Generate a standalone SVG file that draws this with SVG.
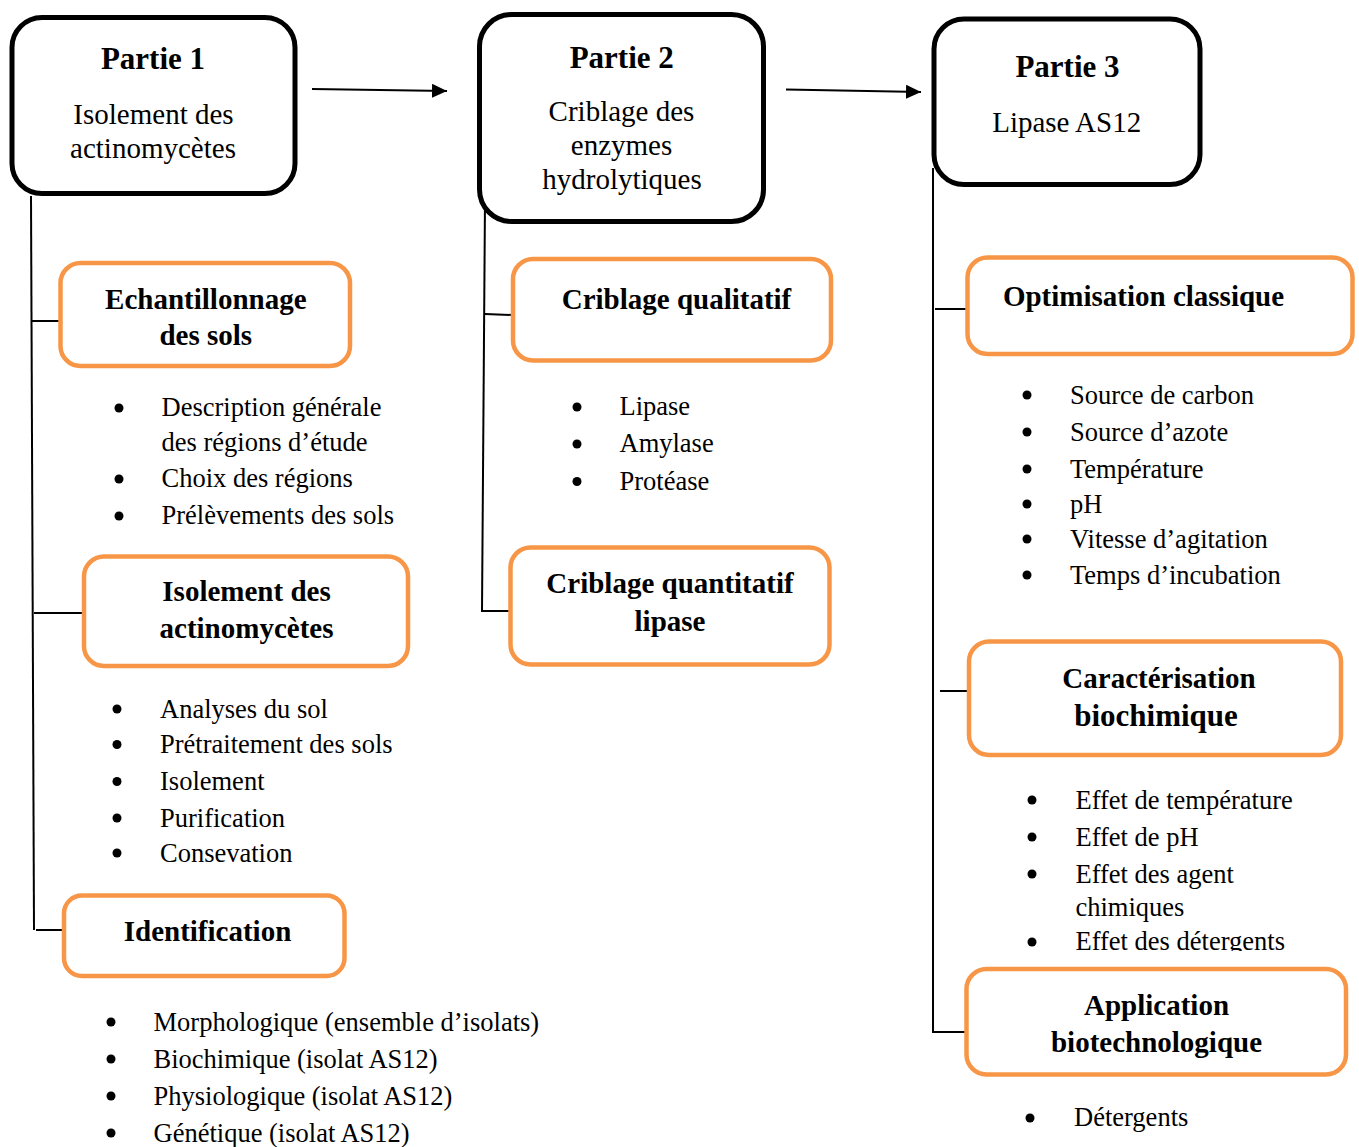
<svg xmlns="http://www.w3.org/2000/svg" width="1359" height="1147" viewBox="0 0 1359 1147">
<style>
.main{fill:#fff;stroke:#000;stroke-width:5}
.sub{fill:#fff;stroke:#F79646;stroke-width:4.5}
text{font-family:"Liberation Serif","Times New Roman",serif;fill:#000}
.h{font-size:31px;font-weight:bold;text-anchor:middle}
.s{font-size:29px;text-anchor:middle}
.b{font-size:29px;font-weight:bold;text-anchor:middle}
.li{font-size:26.5px}
.conn{stroke:#000;stroke-width:2;fill:none}
.arr{stroke:#000;stroke-width:2;fill:none;marker-end:url(#ah)}
.dot{fill:#000}
</style>
<defs>
<marker id="ah" markerUnits="userSpaceOnUse" markerWidth="16" markerHeight="15" refX="15" refY="7" orient="auto">
<path d="M0,0 L15,7 L0,14 z" fill="#000"/>
</marker>
<clipPath id="clipEffet"><rect x="1000" y="920" width="340" height="31"/></clipPath>
</defs>
<rect width="1359" height="1147" fill="#fff"/>

<g id="connectors">
<path class="arr" d="M312,89 L447,91"/>
<path class="arr" d="M786,89.5 L921,92"/>
<path class="conn" d="M31,196 L34,930"/>
<path class="conn" d="M32,321 H60"/>
<path class="conn" d="M34,613 H86"/>
<path class="conn" d="M36,930 H63"/>
<path class="conn" d="M485,200 L482,612"/>
<path class="conn" d="M485,314 L513,315"/>
<path class="conn" d="M482,611 H511"/>
<path class="conn" d="M933,168 V1032 H965"/>
<path class="conn" d="M935,309 H967"/>
<path class="conn" d="M940,691 H969"/>
</g>

<g id="partie1">
<rect class="main" x="12" y="17.5" width="283" height="176" rx="30"/>
<text class="h" x="153" y="68.5">Partie 1</text>
<text class="s" x="153.5" y="124">Isolement des</text>
<text class="s" x="153" y="158">actinomycètes</text>
</g>

<g id="partie2">
<rect class="main" x="479.5" y="14.5" width="284" height="207" rx="32"/>
<text class="h" x="621.7" y="67.5">Partie 2</text>
<text class="s" x="621.5" y="121">Criblage des</text>
<text class="s" x="621.5" y="155">enzymes</text>
<text class="s" x="622" y="189">hydrolytiques</text>
</g>

<g id="partie3">
<rect class="main" x="934" y="19" width="266" height="165.5" rx="30"/>
<text class="h" x="1067.5" y="76.5">Partie 3</text>
<text class="s" x="1066.7" y="131.5">Lipase AS12</text>
</g>

<g id="echantillonnage">
<rect class="sub" x="60.5" y="263" width="289.5" height="103" rx="20"/>
<text class="b" x="205.8" y="308.5">Echantillonnage</text>
<text class="b" x="205.8" y="344.5">des sols</text>
</g>
<g id="list-echantillonnage">
<circle class="dot" cx="119" cy="408" r="4.5"/>
<circle class="dot" cx="119" cy="479" r="4.5"/>
<circle class="dot" cx="119" cy="516" r="4.5"/>
<text class="li" x="161.5" y="416">Description générale</text>
<text class="li" x="161.5" y="451">des régions d’étude</text>
<text class="li" x="161.5" y="487">Choix des régions</text>
<text class="li" x="161.5" y="524">Prélèvements des sols</text>
</g>

<g id="isolement">
<rect class="sub" x="84" y="556.5" width="324" height="109.5" rx="20"/>
<text class="b" x="246.5" y="600.5">Isolement des</text>
<text class="b" x="246.5" y="637.5">actinomycètes</text>
</g>
<g id="list-isolement">
<circle class="dot" cx="117" cy="709" r="4.5"/>
<circle class="dot" cx="117" cy="744.5" r="4.5"/>
<circle class="dot" cx="117" cy="781.5" r="4.5"/>
<circle class="dot" cx="117" cy="818" r="4.5"/>
<circle class="dot" cx="117" cy="853" r="4.5"/>
<text class="li" x="160" y="717.5">Analyses du sol</text>
<text class="li" x="160" y="753">Prétraitement des sols</text>
<text class="li" x="160" y="790">Isolement</text>
<text class="li" x="160" y="826.5">Purification</text>
<text class="li" x="160" y="861.5">Consevation</text>
</g>

<g id="identification">
<rect class="sub" x="64" y="895.5" width="280.5" height="80.5" rx="18"/>
<text class="b" x="207.5" y="940.5">Identification</text>
</g>
<g id="list-identification">
<circle class="dot" cx="111" cy="1022" r="4.5"/>
<circle class="dot" cx="111" cy="1059" r="4.5"/>
<circle class="dot" cx="111" cy="1096" r="4.5"/>
<circle class="dot" cx="111" cy="1133" r="4.5"/>
<text class="li" x="153.5" y="1030.5">Morphologique (ensemble d’isolats)</text>
<text class="li" x="153.5" y="1067.5">Biochimique (isolat AS12)</text>
<text class="li" x="153.5" y="1104.5">Physiologique (isolat AS12)</text>
<text class="li" x="153.5" y="1141.5">Génétique (isolat AS12)</text>
</g>

<g id="criblage-qualitatif">
<rect class="sub" x="513" y="259" width="318" height="101.5" rx="20"/>
<text class="b" x="676.5" y="309">Criblage qualitatif</text>
</g>
<g id="list-qualitatif">
<circle class="dot" cx="577" cy="407" r="4.5"/>
<circle class="dot" cx="577" cy="444" r="4.5"/>
<circle class="dot" cx="577" cy="481.5" r="4.5"/>
<text class="li" x="619.5" y="415">Lipase</text>
<text class="li" x="619.5" y="452">Amylase</text>
<text class="li" x="619.5" y="489.5">Protéase</text>
</g>

<g id="criblage-quantitatif">
<rect class="sub" x="510.5" y="547.5" width="319" height="117" rx="20"/>
<text class="b" x="670" y="593">Criblage quantitatif</text>
<text class="b" x="670" y="631">lipase</text>
</g>

<g id="optimisation">
<rect class="sub" x="967.5" y="257.5" width="385" height="96.5" rx="20"/>
<text class="b" x="1143.5" y="305.5">Optimisation classique</text>
</g>
<g id="list-optimisation">
<circle class="dot" cx="1027" cy="395" r="4.5"/>
<circle class="dot" cx="1027" cy="432" r="4.5"/>
<circle class="dot" cx="1027" cy="469" r="4.5"/>
<circle class="dot" cx="1027" cy="504" r="4.5"/>
<circle class="dot" cx="1027" cy="539" r="4.5"/>
<circle class="dot" cx="1027" cy="575" r="4.5"/>
<text class="li" x="1070" y="403.5">Source de carbon</text>
<text class="li" x="1070" y="440.5">Source d’azote</text>
<text class="li" x="1070" y="477.5">Température</text>
<text class="li" x="1070" y="512.5">pH</text>
<text class="li" x="1070" y="547.5">Vitesse d’agitation</text>
<text class="li" x="1070" y="583.5">Temps d’incubation</text>
</g>

<g id="caracterisation">
<rect class="sub" x="969" y="641.5" width="372" height="113.5" rx="20"/>
<text class="b" x="1159" y="687.5">Caractérisation</text>
<text class="b" x="1156" y="726" style="font-size:31px">biochimique</text>
</g>
<g id="list-caracterisation">
<circle class="dot" cx="1032" cy="800" r="4.5"/>
<circle class="dot" cx="1032" cy="837" r="4.5"/>
<circle class="dot" cx="1032" cy="874" r="4.5"/>
<circle class="dot" cx="1032" cy="942" r="4.5"/>
<text class="li" x="1075.5" y="808.5">Effet de température</text>
<text class="li" x="1075.5" y="845.5">Effet de pH</text>
<text class="li" x="1075.5" y="882.5">Effet des agent</text>
<text class="li" x="1075.5" y="916">chimiques</text>
<text class="li" x="1075.5" y="950" clip-path="url(#clipEffet)">Effet des détergents</text>
</g>

<g id="application">
<rect class="sub" x="966.5" y="969" width="379.5" height="105.5" rx="20"/>
<text class="b" x="1156.5" y="1014.5">Application</text>
<text class="b" x="1156.5" y="1051.5">biotechnologique</text>
</g>
<g id="list-application">
<circle class="dot" cx="1030" cy="1118" r="4.5"/>
<text class="li" x="1074" y="1126">Détergents</text>
</g>
</svg>
